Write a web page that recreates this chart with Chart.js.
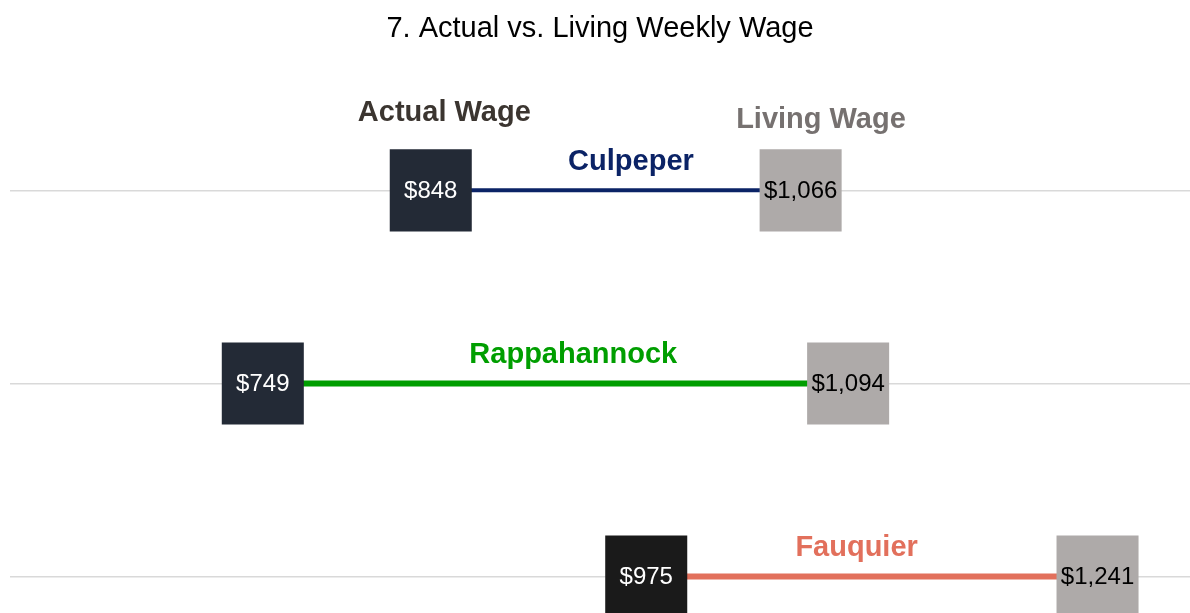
<!DOCTYPE html>
<html>
<head>
<meta charset="utf-8">
<script src="https://cdn.jsdelivr.net/npm/chart.js@4/dist/chart.umd.min.js"></script>
<style>
  html, body { margin: 0; padding: 0; background: #ffffff; }
  #wrap { width: 1190px; height: 613px; position: relative; }
</style>
</head>
<body>
<div id="wrap"><canvas id="c"></canvas></div>
<script>
// ---- data ----
const titleText = '7. Actual vs. Living Weekly Wage';
const counties = ['Culpeper', 'Rappahannock', 'Fauquier'];
const actualWage = [848, 749, 975];
const livingWage = [1066, 1094, 1241];
const rowIndex = [3, 2, 1];
const countyLabelAt = [966, 932, 1099];
const headerLabels = ['Actual Wage', 'Living Wage'];
const headerLabelAt = [856, 1078];

// ---- styles ----
const FONT = "'Liberation Sans', Arial, Helvetica, sans-serif";
const countyColors = ['#0b2366', '#009e00', '#e2705c'];
const lineWidths = [4, 6, 6];
const actualColors = ['#232a36', '#232a36', '#1a1a1a'];
const livingColor = '#aeaaa9';
const headerColors = ['#3b3530', '#767170'];

const fmt = v => '$' + v.toLocaleString('en-US');

const datasets = [];
datasets.push({
  type: 'scatter', label: 'Actual', order: 0, clip: false,
  data: counties.map((c, i) => ({ x: actualWage[i], y: rowIndex[i] })),
  pointStyle: 'rect', pointRadius: 58, pointHoverRadius: 58,
  backgroundColor: actualColors, borderWidth: 0
});
datasets.push({
  type: 'scatter', label: 'Living', order: 0, clip: false,
  data: counties.map((c, i) => ({ x: livingWage[i], y: rowIndex[i] })),
  pointStyle: 'rect', pointRadius: 58, pointHoverRadius: 58,
  backgroundColor: livingColor, borderWidth: 0
});
counties.forEach((c, i) => {
  datasets.push({
    type: 'line', label: c, order: 1, clip: false,
    data: [{ x: actualWage[i], y: rowIndex[i] }, { x: livingWage[i], y: rowIndex[i] }],
    borderColor: countyColors[i], borderWidth: lineWidths[i],
    pointRadius: 0, fill: false, tension: 0
  });
});

const labelPlugin = {
  id: 'labelPlugin',
  afterDatasetsDraw(chart) {
    const ctx = chart.ctx;
    const xs = chart.scales.x, ys = chart.scales.y;
    ctx.save();
    // values inside squares
    ctx.textAlign = 'center';
    ctx.textBaseline = 'middle';
    ctx.font = '24px ' + FONT;
    [0, 1].forEach(di => {
      const meta = chart.getDatasetMeta(di);
      meta.data.forEach((pt, j) => {
        ctx.fillStyle = di === 0 ? '#ffffff' : '#000000';
        const v = di === 0 ? actualWage[j] : livingWage[j];
        ctx.fillText(fmt(v), pt.x, pt.y + 1);
      });
    });
    // county names
    ctx.textBaseline = 'alphabetic';
    ctx.font = 'bold 29px ' + FONT;
    counties.forEach((c, i) => {
      ctx.fillStyle = countyColors[i];
      ctx.fillText(c, xs.getPixelForValue(countyLabelAt[i]), ys.getPixelForValue(rowIndex[i]) - 20.5);
    });
    // header labels
    const topRow = ys.getPixelForValue(rowIndex[0]);
    const headerOffsets = [69.5, 62.5];
    headerLabels.forEach((t, i) => {
      ctx.fillStyle = headerColors[i];
      ctx.fillText(t, xs.getPixelForValue(headerLabelAt[i]), topRow - headerOffsets[i]);
    });
    ctx.restore();
  }
};

new Chart(document.getElementById('c'), {
  data: { datasets },
  options: {
    responsive: true,
    maintainAspectRatio: false,
    animation: false,
    events: [],
    layout: { autoPadding: false, padding: { left: 10, right: 0, top: 0, bottom: 0 } },
    plugins: {
      legend: { display: false },
      tooltip: { enabled: false },
      title: {
        display: true, text: titleText, color: '#000000',
        font: { family: FONT, size: 29, weight: 'normal', lineHeight: 1.2 },
        padding: { top: 12, bottom: 20 }
      }
    },
    scales: {
      x: { type: 'linear', display: false, min: 600, max: 1295.5 },
      y: {
        type: 'linear', min: 0.811, max: 3.640,
        afterBuildTicks: axis => { axis.ticks = rowIndex.map(v => ({ value: v })); },
        ticks: { display: false },
        grid: { color: '#d9d9d9', lineWidth: 1.5, drawTicks: false },
        border: { display: false }
      }
    }
  },
  plugins: [labelPlugin]
});
</script>
</body>
</html>
